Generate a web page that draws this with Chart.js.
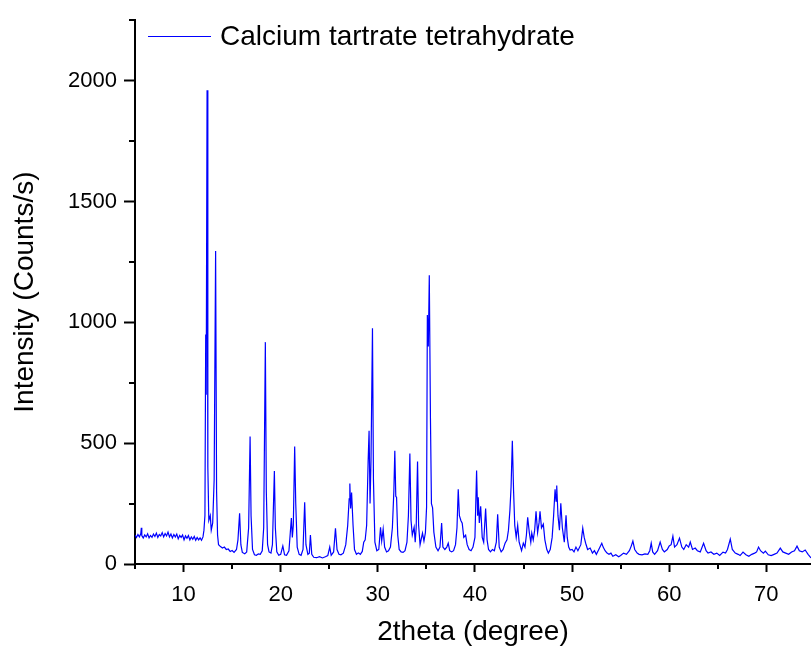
<!DOCTYPE html>
<html>
<head>
<meta charset="utf-8">
<title>Calcium tartrate tetrahydrate XRD</title>
<script src="https://cdn.jsdelivr.net/npm/chart.js@4.4.1/dist/chart.umd.min.js"></script>
<style>
  html, body { margin: 0; padding: 0; background: #fff; }
  canvas { display: block; }
</style>
</head>
<body>
<canvas id="xrd" width="811" height="649"></canvas>
<script>
// values (2theta in degrees, intensity in counts/s)
const twoTheta = [
  5.0, 5.15, 5.3, 5.45, 5.6, 5.65, 5.7, 5.85, 6.0, 6.15, 6.3, 6.45, 6.6, 6.75, 6.9, 7.05, 7.2, 7.35, 7.5, 7.65,
  7.8, 7.95, 8.1, 8.25, 8.4, 8.55, 8.7, 8.85, 9.0, 9.15, 9.3, 9.45, 9.6, 9.75, 9.9, 10.05, 10.2, 10.35, 10.5, 10.65,
  10.8, 10.95, 11.1, 11.25, 11.4, 11.55, 11.7, 11.85, 12.0, 12.1, 12.2, 12.28, 12.33, 12.42, 12.5, 12.6, 12.75, 12.85, 13.0, 13.15,
  13.3, 13.4, 13.5, 13.6, 13.8, 14.0, 14.2, 14.4, 14.6, 14.8, 15.0, 15.2, 15.45, 15.6, 15.77, 15.9, 16.05, 16.3, 16.5, 16.7,
  16.85, 16.95, 17.1, 17.3, 17.5, 17.7, 17.9, 18.1, 18.25, 18.42, 18.52, 18.65, 18.8, 19.0, 19.15, 19.35, 19.45, 19.6, 19.8, 20.0,
  20.22, 20.4, 20.6, 20.85, 21.1, 21.2, 21.3, 21.44, 21.55, 21.7, 21.9, 22.1, 22.3, 22.47, 22.6, 22.8, 22.95, 23.06, 23.2, 23.4,
  23.7, 24.0, 24.3, 24.6, 24.85, 25.05, 25.2, 25.45, 25.64, 25.8, 26.0, 26.2, 26.45, 26.7, 26.9, 27.05, 27.12, 27.2, 27.3, 27.45,
  27.6, 27.8, 28.0, 28.2, 28.4, 28.55, 28.7, 28.85, 29.0, 29.1, 29.2, 29.3, 29.45, 29.55, 29.7, 29.9, 30.1, 30.28, 30.4, 30.55,
  30.7, 30.9, 31.1, 31.3, 31.5, 31.65, 31.75, 31.85, 31.93, 32.05, 32.2, 32.4, 32.6, 32.8, 33.0, 33.15, 33.3, 33.42, 33.55, 33.74,
  33.85, 33.95, 34.09, 34.2, 34.35, 34.6, 34.75, 34.9, 35.02, 35.1, 35.2, 35.3, 35.42, 35.52, 35.64, 35.77, 35.98, 36.2, 36.4, 36.57,
  36.7, 36.9, 37.1, 37.25, 37.4, 37.6, 37.8, 38.0, 38.15, 38.28, 38.4, 38.55, 38.69, 38.85, 39.04, 39.2, 39.4, 39.6, 39.8, 40.0,
  40.17, 40.28, 40.34, 40.45, 40.59, 40.75, 40.9, 41.1, 41.25, 41.4, 41.6, 41.8, 42.0, 42.2, 42.34, 42.5, 42.7, 42.9, 43.1, 43.3,
  43.45, 43.6, 43.72, 43.85, 43.98, 44.1, 44.25, 44.4, 44.55, 44.8, 44.98, 45.15, 45.3, 45.43, 45.6, 45.75, 45.85, 46.0, 46.15, 46.29,
  46.45, 46.6, 46.7, 46.85, 47.04, 47.2, 47.4, 47.56, 47.75, 47.95, 48.1, 48.25, 48.35, 48.42, 48.55, 48.7, 48.84, 49.0, 49.2, 49.38,
  49.5, 49.65, 49.8, 50.0, 50.2, 50.4, 50.6, 50.9, 51.1, 51.25, 51.4, 51.6, 51.86, 52.1, 52.3, 52.5, 52.75, 53.06, 53.2, 53.4,
  53.6, 53.8, 54.0, 54.2, 54.5, 54.8, 55.0, 55.3, 55.6, 55.9, 56.1, 56.26, 56.45, 56.7, 56.9, 57.2, 57.5, 57.8, 58.0, 58.15,
  58.3, 58.5, 58.8, 59.07, 59.3, 59.5, 59.8, 60.0, 60.2, 60.38, 60.55, 60.8, 61.06, 61.3, 61.5, 61.75, 62.0, 62.17, 62.4, 62.68,
  62.9, 63.2, 63.54, 63.8, 64.0, 64.3, 64.6, 64.9, 65.2, 65.54, 65.8, 66.0, 66.29, 66.5, 66.8, 67.1, 67.3, 67.6, 67.9, 68.2,
  68.5, 68.8, 69.0, 69.2, 69.4, 69.7, 69.9, 70.2, 70.5, 70.8, 71.1, 71.44, 71.7, 72.0, 72.3, 72.6, 72.9, 73.16, 73.4, 73.7,
  74.0, 74.3, 74.6
];
const counts = [
  120, 110, 122, 112, 126, 150, 118, 108, 120, 112, 125, 108, 118, 110, 124, 114, 128, 110, 122, 116,
  130, 112, 126, 116, 132, 112, 124, 108, 122, 112, 124, 104, 118, 110, 120, 100, 116, 106, 118, 100,
  112, 102, 114, 98, 110, 100, 108, 98, 112, 140, 200, 950, 700, 1960, 400, 180, 200, 140, 170, 350,
  1295, 300, 120, 80, 72, 66, 70, 60, 62, 52, 56, 48, 60, 100, 210, 80, 48, 42, 50, 150,
  528, 200, 60, 38, 36, 42, 40, 55, 150, 918, 300, 80, 50, 45, 80, 385, 150, 50, 36, 40,
  75, 38, 36, 55, 190, 110, 160, 486, 250, 70, 40, 36, 60, 255, 80, 40, 45, 120, 40, 28,
  26, 30, 25, 30, 35, 70, 36, 50, 148, 60, 40, 38, 45, 80, 160, 270, 333, 230, 296, 160,
  60, 40, 46, 40, 52, 90, 100, 160, 420, 551, 250, 430, 975, 350, 90, 55, 60, 152, 95, 144,
  70, 50, 55, 70, 150, 300, 469, 280, 276, 120, 60, 50, 48, 55, 90, 200, 457, 180, 120, 152,
  90, 150, 424, 160, 80, 128, 95, 130, 235, 1030, 900, 1195, 600, 250, 232, 132, 70, 55, 70, 169,
  70, 60, 70, 86, 55, 50, 55, 80, 150, 309, 200, 180, 169, 110, 119, 80, 60, 55, 70, 110,
  387, 200, 276, 170, 239, 110, 90, 230, 100, 60, 50, 60, 55, 90, 206, 70, 50, 60, 86, 100,
  140, 222, 320, 510, 300, 160, 110, 160, 90, 55, 86, 70, 120, 193, 130, 90, 128, 100, 140, 218,
  130, 170, 218, 150, 165, 100, 60, 45, 60, 110, 200, 309, 260, 325, 200, 140, 251, 150, 90, 202,
  110, 70, 58, 60, 50, 70, 55, 80, 148, 110, 86, 60, 66, 45, 55, 40, 60, 86, 70, 55,
  45, 40, 45, 32, 38, 30, 35, 45, 40, 55, 75, 95, 60, 45, 40, 38, 42, 40, 55, 86,
  50, 40, 55, 91, 60, 50, 60, 75, 80, 115, 70, 80, 107, 70, 60, 80, 70, 91, 60, 66,
  55, 50, 86, 55, 45, 50, 40, 45, 35, 49, 45, 60, 103, 60, 45, 40, 35, 49, 38, 32,
  40, 45, 50, 70, 55, 45, 53, 38, 35, 40, 45, 66, 50, 45, 40, 50, 55, 74, 55, 50,
  58, 40, 25
];
const seriesLabel = 'Calcium tartrate tetrahydrate';
const xTickValues = [10, 20, 30, 40, 50, 60, 70];
const yTickValues = [0, 500, 1000, 1500, 2000];
const xMinorTicks = [5, 15, 25, 35, 45, 55, 65];
const yMinorTicks = [250, 750, 1250, 1750, 2250];

const FONT = "'Liberation Sans', Arial, sans-serif";
const LINE_COLOR = '#0000ff';

const points = twoTheta.map((x, i) => ({ x: x, y: counts[i] }));

// short minor ticks, like the origin plot
const minorTicks = {
  id: 'minorTicks',
  afterDraw(chart) {
    const { ctx, chartArea, scales } = chart;
    ctx.save();
    ctx.strokeStyle = '#000';
    ctx.lineWidth = 2;
    ctx.beginPath();
    xMinorTicks.forEach(v => {
      const px = Math.round(scales.x.getPixelForValue(v));
      ctx.moveTo(px, chartArea.bottom);
      ctx.lineTo(px, chartArea.bottom + 5);
    });
    yMinorTicks.forEach(v => {
      const py = Math.round(scales.y.getPixelForValue(v));
      ctx.moveTo(chartArea.left, py);
      ctx.lineTo(chartArea.left - 6, py);
    });
    ctx.stroke();
    ctx.restore();
  }
};

// legend sitting inside the plot, top left
const insideLegend = {
  id: 'insideLegend',
  afterDraw(chart) {
    const ctx = chart.ctx;
    const ds = chart.data.datasets[0];
    const y = 36;
    ctx.save();
    ctx.strokeStyle = ds.borderColor;
    ctx.lineWidth = 1;
    ctx.beginPath();
    ctx.moveTo(148, y + 0.5);
    ctx.lineTo(211, y + 0.5);
    ctx.stroke();
    ctx.fillStyle = '#000';
    ctx.font = '28px ' + FONT;
    ctx.textBaseline = 'middle';
    ctx.textAlign = 'left';
    ctx.fillText(ds.label, 220, y + 1);
    ctx.restore();
  }
};

new Chart(document.getElementById('xrd'), {
  type: 'line',
  data: {
    datasets: [{
      label: seriesLabel,
      data: points,
      borderColor: LINE_COLOR,
      borderWidth: 1.2,
      pointRadius: 0,
      tension: 0,
      fill: false
    }]
  },
  options: {
    responsive: false,
    animation: false,
    layout: { padding: { top: 17, right: 0, left: 0, bottom: 0 } },
    plugins: {
      legend: { display: false },
      tooltip: { enabled: false }
    },
    scales: {
      x: {
        type: 'linear',
        min: 5,
        max: 74.6,
        border: { color: '#000', width: 2 },
        grid: { drawOnChartArea: false, tickLength: 8, tickColor: '#000', tickWidth: 2 },
        ticks: {
          color: '#000',
          padding: 10,
          maxRotation: 0,
          font: { family: FONT, size: 22 },
          callback: v => String(v)
        },
        afterBuildTicks(scale) { scale.ticks = xTickValues.map(v => ({ value: v })); },
        title: {
          display: true,
          text: '2theta (degree)',
          color: '#000',
          padding: 0,
          font: { family: FONT, size: 28 }
        },
        afterFit(scale) { scale.height = 85; }
      },
      y: {
        min: 0,
        max: 2250,
        border: { color: '#000', width: 2 },
        grid: { drawOnChartArea: false, tickLength: 11, tickColor: '#000', tickWidth: 2 },
        ticks: {
          color: '#000',
          padding: 7,
          font: { family: FONT, size: 22 },
          callback: v => String(v)
        },
        afterBuildTicks(scale) { scale.ticks = yTickValues.map(v => ({ value: v })); },
        title: {
          display: true,
          text: 'Intensity (Counts/s)',
          color: '#000',
          padding: 8,
          font: { family: FONT, size: 28 }
        },
        afterFit(scale) { scale.width = 135; }
      }
    }
  },
  plugins: [minorTicks, insideLegend]
});
</script>
</body>
</html>
